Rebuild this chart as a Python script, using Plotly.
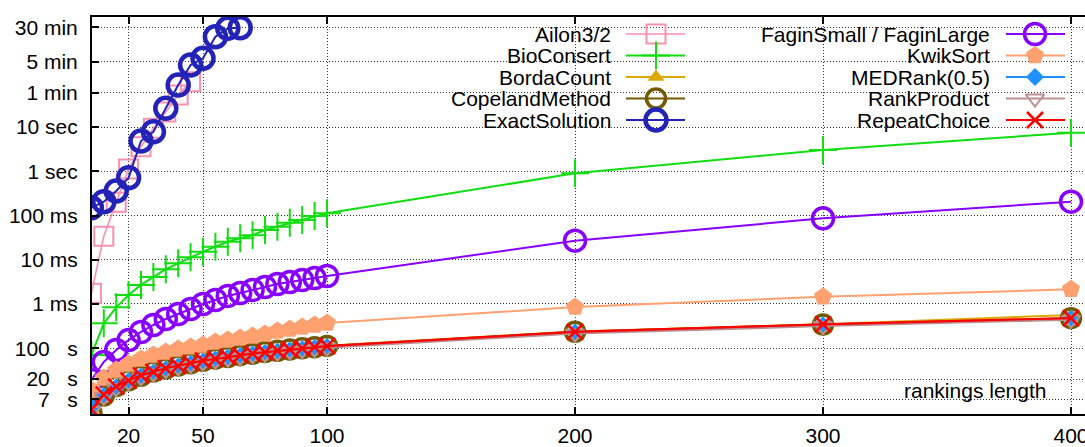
import plotly.graph_objects as go

# ---------------- data (times in seconds unless noted) ----------------
x_small = [5, 10, 15, 20, 25, 30, 35, 40, 45, 50, 55, 60, 65, 70, 75, 80, 85, 90, 95, 100]
x_large = [200, 300, 400]
x_ailon = [5, 10, 15, 20, 25, 30, 35, 40, 45]
x_exact = [5, 10, 15, 20, 25, 30, 35, 40, 45, 50, 55, 60, 65]

ailon = [1.74e-3, 0.034, 0.2, 1.13, 3.6, 9.4, 22, 53, 106]
exact = [0.150, 0.206, 0.359, 0.717, 4.84, 7.85, 26.6, 89, 253, 359, 1104, 1710, 1766]
bioconsert = [7.0e-5, 3.66e-4, 8.4e-4, 1.6e-3, 2.7e-3, 4.1e-3, 6.1e-3, 8.3e-3, 1.14e-2, 1.52e-2,
              1.97e-2, 2.56e-2, 3.05e-2, 3.6e-2, 4.7e-2, 5.6e-2, 6.9e-2, 7.9e-2, 9.7e-2, 0.112,
              0.90, 3.03, 7.46]
fagin = [1.91e-5, 4.88e-5, 9.1e-5, 1.53e-4, 2.33e-4, 3.35e-4, 4.58e-4, 5.94e-4, 7.7e-4, 1.0e-3,
         1.23e-3, 1.52e-3, 1.77e-3, 2.07e-3, 2.42e-3, 2.83e-3, 3.14e-3, 3.48e-3, 3.87e-3, 4.30e-3,
         0.027, 0.0865, 0.206]
kwiksort = [1.135e-5, 2.12e-5, 3.22e-5, 4.40e-5, 5.70e-5, 7.03e-5, 8.21e-5, 9.6e-5, 1.07e-4, 1.18e-4,
            1.38e-4, 1.53e-4, 1.70e-4, 1.89e-4, 2.10e-4, 2.45e-4, 2.72e-4, 3.02e-4, 3.35e-4, 3.72e-4,
            8.5e-4, 1.46e-3, 2.15e-3]
# the following are in microseconds
borda_us = [4.0, 8.8, 13.8, 19.0, 24.2, 29.7, 35.1, 40.9, 46.5, 52.4, 58.0, 64.1, 70.0, 76.0, 82.1,
            88.2, 94.4, 100.5, 106.9, 113.4, 240, 350, 565]
copeland_us = [3.5, 8.5, 13.9, 18.9, 23.8, 29.6, 34.6, 40.8, 45.8, 52.0, 58.1, 63.2, 69.8, 75.2, 81.9,
               87.1, 93.9, 100.1, 105.5, 112.8, 236, 342, 478]
medrank_us = [4.8, 8.3, 12.9, 17.9, 22.8, 28.1, 33.3, 38.6, 43.9, 49.5, 55.0, 60.4, 66.2, 71.8, 77.5,
              83.3, 89.0, 94.8, 100.7, 106.5, 226, 330, 462]
rankproduct_us = [3.8, 7.9, 12.4, 17.2, 21.9, 26.8, 31.9, 36.9, 42.0, 47.3, 52.6, 57.9, 63.2, 68.7, 74.1,
                  79.6, 85.1, 90.7, 96.2, 101.9, 214, 316, 440]
repeat_us = [4.1, 8.9, 13.5, 18.6, 24.3, 29.0, 35.2, 40.1, 46.0, 52.3, 57.1, 63.8, 69.0, 75.9, 81.0,
             87.9, 93.1, 99.2, 106.4, 111.5, 234, 345, 480]

y_tickvals = [7e-6, 2e-5, 1e-4, 1e-3, 1e-2, 0.1, 1, 10, 60, 300, 1800]
NB = "\u00a0"
y_ticktext = ["7" + NB * 3 + "s", "20" + NB * 3 + "s", "100" + NB * 3 + "s", "1 ms", "10 ms", "100 ms",
              "1 sec", "10 sec", "1 min", "5 min", "30 min"]
x_tickvals = [20, 50, 100, 200, 300, 400]
x_ticktext = ["20", "50", "100", "200", "300", "400"]

legend_col1 = ["Ailon3/2", "BioConsert", "BordaCount", "CopelandMethod", "ExactSolution"]
legend_col2 = ["FaginSmall / FaginLarge", "KwikSort", "MEDRank(0.5)", "RankProduct", "RepeatChoice"]

xall = x_small + x_large
us = 1e-6
series = [
    ("Ailon3/2", x_ailon, ailon),
    ("BioConsert", xall, bioconsert),
    ("BordaCount", xall, [v * us for v in borda_us]),
    ("CopelandMethod", xall, [v * us for v in copeland_us]),
    ("ExactSolution", x_exact, exact),
    ("FaginSmall / FaginLarge", xall, fagin),
    ("KwikSort", xall, kwiksort),
    ("MEDRank(0.5)", xall, [v * us for v in medrank_us]),
    ("RankProduct", xall, [v * us for v in rankproduct_us]),
    ("RepeatChoice", xall, [v * us for v in repeat_us]),
]

# ---------------- styles ----------------
styles = {
    "Ailon3/2": dict(color="#f890b0", symbol="square-open", size=19, mlw=2, lw=1.6),
    "BioConsert": dict(color="#11dd11", symbol="cross-thin", size=20, mlw=2, lw=2),
    "BordaCount": dict(color="#dba700", symbol="triangle-up", size=15, mlw=0, lw=2),
    "CopelandMethod": dict(color="#735a00", symbol="circle-open", size=19, mlw=3.5, lw=2),
    "ExactSolution": dict(color="#2323b8", symbol="circle-open", size=21, mlw=4.5, lw=2),
    "FaginSmall / FaginLarge": dict(color="#8800ff", symbol="circle-open", size=21, mlw=3.5, lw=2),
    "KwikSort": dict(color="#ffa070", symbol="pentagon", size=19, mlw=0, lw=2),
    "MEDRank(0.5)": dict(color="#1e90ff", symbol="diamond", size=14, mlw=0, lw=2),
    "RankProduct": dict(color="#bc8f8f", symbol="triangle-down-open", size=16, mlw=2, lw=2),
    "RepeatChoice": dict(color="#ff0000", symbol="x-thin", size=16, mlw=2.5, lw=2.2),
}

FONT = "Liberation Sans, Arial, sans-serif"
fig = go.Figure()

for name, xs, ys in series:
    st = styles[name]
    fig.add_trace(go.Scatter(
        x=xs, y=ys, name=name, mode="lines+markers",
        line=dict(color=st["color"], width=st["lw"]),
        marker=dict(symbol=st["symbol"], size=st["size"], color=st["color"],
                    line=dict(color=st["color"], width=st["mlw"])),
        showlegend=False, xaxis="x", yaxis="y",
    ))

# ---------------- custom gnuplot-like key (pixel coordinate overlay) ----------------
L, R, T, B = 92, 1085, 17, 414
rows = [34, 55.5, 77, 98.5, 120]
cols = [(613, 626, 685, 656), (992, 1006, 1065, 1035)]
annotations = []
for ci, names in enumerate([legend_col1, legend_col2]):
    tx, l0, l1, mx = cols[ci]
    for ri, name in enumerate(names):
        st = styles[name]
        yy = rows[ri]
        fig.add_trace(go.Scatter(x=[l0, l1], y=[yy, yy], mode="lines",
                                 line=dict(color=st["color"], width=st["lw"]),
                                 showlegend=False, hoverinfo="skip", xaxis="x2", yaxis="y2"))
        fig.add_trace(go.Scatter(x=[mx], y=[yy], mode="markers",
                                 marker=dict(symbol=st["symbol"], size=st["size"], color=st["color"],
                                             line=dict(color=st["color"], width=st["mlw"])),
                                 showlegend=False, hoverinfo="skip", xaxis="x2", yaxis="y2"))
        annotations.append(dict(x=tx, y=yy, xref="x2", yref="y2", text=name, showarrow=False,
                                xanchor="right", yanchor="middle",
                                font=dict(family=FONT, size=21, color="black")))

annotations.append(dict(x=1048, y=390, xref="x2", yref="y2", text="rankings length", showarrow=False,
                        xanchor="right", yanchor="middle", font=dict(family=FONT, size=21, color="black")))

# white key box hiding the grid
def px_to_x(p):
    return 5.24 + (p - L) / 2.48

shapes = [dict(type="rect", xref="x", yref="paper", x0=px_to_x(315), x1=px_to_x(1074),
               y0=(B - 131) / (B - T), y1=1.0, fillcolor="white", line=dict(width=0), layer="between")]

grid = dict(showgrid=True, gridcolor="#333333", gridwidth=1, griddash="1px,2px")

fig.update_layout(
    template="none",
    width=1085, height=447, autosize=False,
    margin=dict(l=L, r=1085 - R, t=T, b=447 - B, pad=0),
    paper_bgcolor="white", plot_bgcolor="white",
    font=dict(family=FONT, size=21, color="black"),
    showlegend=False,
    xaxis=dict(range=[5.24, 5.24 + (R - L) / 2.48], tickvals=x_tickvals, ticktext=x_ticktext,
               ticks="inside", ticklen=7, tickwidth=2, tickcolor="black",
               showline=True, linewidth=2, linecolor="black", mirror="ticks", automargin=False,
               zeroline=False, tickfont=dict(family=FONT, size=21), ticklabeloverflow="allow",
               ticklabelstandoff=2, **grid),
    yaxis=dict(type="log", range=[(171.3 - B) / 44.23, (171.3 - T) / 44.23],
               tickvals=y_tickvals, ticktext=y_ticktext, automargin=False,
               ticks="inside", ticklen=7, tickwidth=2, tickcolor="black",
               showline=True, linewidth=2, linecolor="black", mirror=False,
               zeroline=False, tickfont=dict(family=FONT, size=21), ticklabelstandoff=8, **grid),
    xaxis2=dict(overlaying="x", range=[L, R], visible=False, anchor="y2", automargin=False),
    yaxis2=dict(overlaying="y", range=[B, T], visible=False, anchor="x2", automargin=False),
    annotations=annotations,
    shapes=shapes,
)

fig.write_html("out.html", config={"displayModeBar": False},
               post_script="document.body.style.margin='0';document.body.style.overflow='hidden';")
